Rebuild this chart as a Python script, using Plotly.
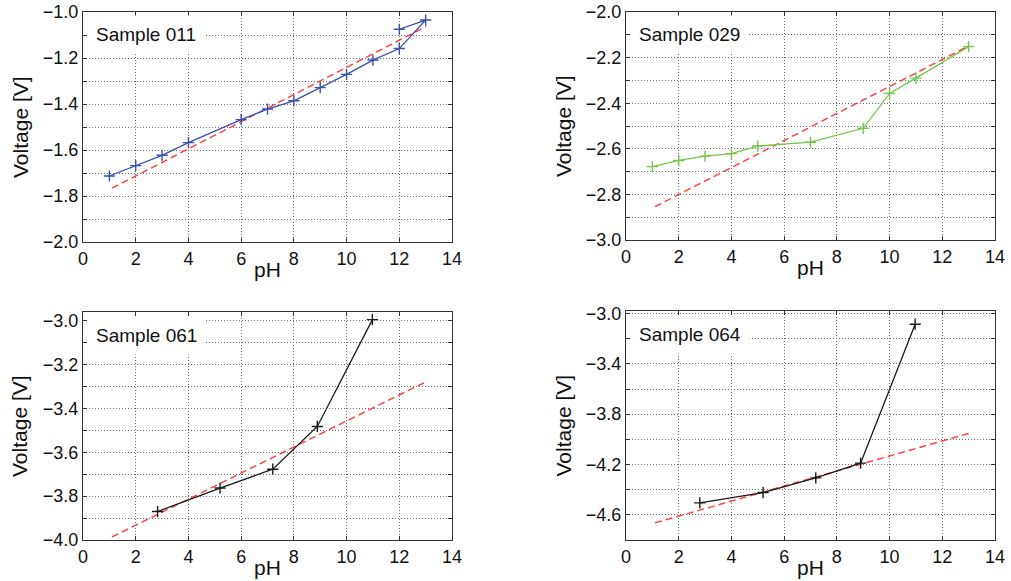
import plotly.graph_objects as go

W, H = 1011, 581

# ---------------- data ----------------
ph_011 = [1, 2, 3, 4, 6, 7, 8, 9, 10, 11, 12, 13, 12]
v_011 = [-1.713, -1.668, -1.623, -1.568, -1.468, -1.422, -1.386, -1.329, -1.271, -1.209, -1.159, -1.035, -1.075]
fit_x_011 = [1.1, 13.0]
fit_y_011 = [-1.766, -1.064]

ph_029 = [1, 2, 3, 4, 5, 7, 9, 10, 11, 13]
v_029 = [-2.678, -2.651, -2.632, -2.621, -2.588, -2.571, -2.510, -2.357, -2.290, -2.152]
fit_x_029 = [1.1, 13.0]
fit_y_029 = [-2.854, -2.149]

ph_061 = [2.83, 5.2, 7.2, 8.89, 10.98]
v_061 = [-3.870, -3.763, -3.677, -3.482, -2.995]
fit_x_061 = [1.1, 13.0]
fit_y_061 = [-3.986, -3.279]

ph_064 = [2.8, 5.2, 7.2, 8.9, 10.97]
v_064 = [-4.505, -4.423, -4.306, -4.189, -3.085]
fit_x_064 = [1.1, 13.0]
fit_y_064 = [-4.664, -3.953]

labels = ["Sample 011", "Sample 029", "Sample 061", "Sample 064"]
x_ticks = [0, 2, 4, 6, 8, 10, 12, 14]

# ---------------- layout helpers (pixels -> paper fraction) ----------------
def px_x(p):
    return p / W

def px_y(p):
    return 1 - p / H

# panel pixel boxes: (left, right, top, bottom)
boxes = [
    (83, 452, 12, 242),
    (626, 995, 12, 240),
    (83, 452, 312, 540),
    (626, 995, 311, 540),
]
yranges = [[-2.0, -1.0], [-3.0, -2.0], [-4.0, -2.96], [-4.8, -2.98]]
ydticks = [(0.2, -2.0, 0.1), (0.2, -3.0, 0.1), (0.2, -4.0, 0.1), (0.4, -3.0, 0.2)]

colors = ["#3a4fae", "#76c44c", "#1a1a1a", "#1a1a1a"]
series = [(ph_011, v_011, fit_x_011, fit_y_011),
          (ph_029, v_029, fit_x_029, fit_y_029),
          (ph_061, v_061, fit_x_061, fit_y_061),
          (ph_064, v_064, fit_x_064, fit_y_064)]

FONT = "Liberation Sans, Arial, Helvetica, sans-serif"
AX = "#333333"
GRID = "#6a6a6a"
GDASH = "1px,2px"

fig = go.Figure()
annotations = []
layout_axes = {}

for i, (box, (xs, ys, fx, fy)) in enumerate(zip(boxes, series)):
    n = "" if i == 0 else str(i + 1)
    xa, ya = "x" + n, "y" + n
    fig.add_trace(go.Scatter(x=fx, y=fy, mode="lines", xaxis=xa, yaxis=ya,
                             line=dict(color="#ff3b3b", width=1.4, dash="7px,4px"),
                             showlegend=False, hoverinfo="skip"))
    fig.add_trace(go.Scatter(x=xs, y=ys, mode="lines+markers", xaxis=xa, yaxis=ya,
                             line=dict(color=colors[i], width=1.3),
                             marker=dict(symbol="cross-thin", size=8,
                                         line=dict(color=colors[i], width=1.4)),
                             showlegend=False))
    l, r, t, b = box
    dt, t0, mdt = ydticks[i]
    common = dict(showline=True, linecolor=AX, linewidth=1.3, mirror="ticks",
                  ticks="inside", ticklen=4, tickcolor=AX, tickwidth=1,
                  showgrid=True, gridcolor=GRID, griddash=GDASH, gridwidth=1,
                  zeroline=False, automargin=False,
                  tickfont=dict(family=FONT, size=18, color="#111"))
    layout_axes["xaxis" + n] = dict(common, domain=[px_x(l), px_x(r)], range=[0, 14],
                                    tickvals=x_ticks, anchor=ya)
    layout_axes["yaxis" + n] = dict(common, domain=[px_y(b), px_y(t)], range=yranges[i],
                                    dtick=dt, tick0=t0, tickformat=".1f", anchor=xa,
                                    minor=dict(dtick=mdt, tick0=t0, ticks="inside", ticklen=4,
                                               tickcolor=AX, showgrid=True, gridcolor=GRID,
                                               griddash=GDASH, gridwidth=1))
    # sample label
    annotations.append(dict(text=labels[i], xref="paper", yref="paper",
                            x=px_x(l + 4), y=px_y(t + 23), xanchor="left", yanchor="middle",
                            showarrow=False, bgcolor="white", borderpad=8,
                            font=dict(family=FONT, size=19, color="#111")))
    # axis titles
    annotations.append(dict(text="pH", xref="paper", yref="paper",
                            x=px_x((l + r) / 2), y=px_y(b + 27), xanchor="center", yanchor="middle",
                            showarrow=False, font=dict(family=FONT, size=21, color="#111")))
    annotations.append(dict(text="Voltage [V]", xref="paper", yref="paper", textangle=-90,
                            x=px_x(l - 63), y=px_y((t + b) / 2), xanchor="center", yanchor="middle",
                            showarrow=False, font=dict(family=FONT, size=21, color="#111")))

fig.update_layout(width=W, height=H, margin=dict(l=0, r=0, t=0, b=0),
                  paper_bgcolor="white", plot_bgcolor="white",
                  annotations=annotations, **layout_axes)

fig.write_html("out.html", config={"displayModeBar": False},
               post_script="document.body.style.margin='0';document.body.style.overflow='hidden';")
